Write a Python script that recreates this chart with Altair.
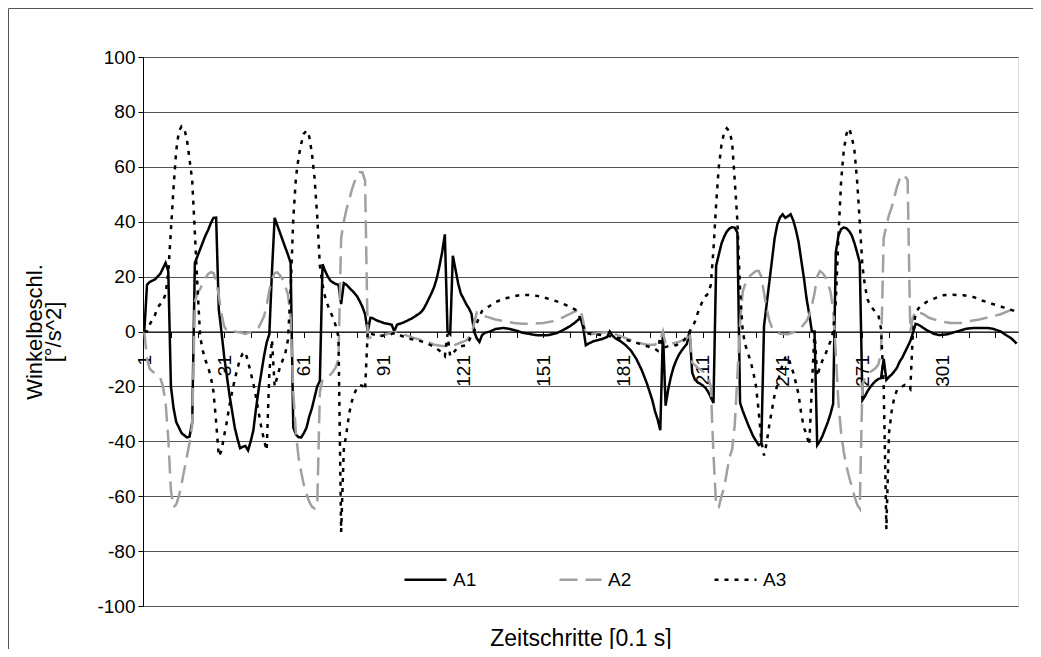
import altair as alt
import pandas as pd

SERIES = ["A1", "A2", "A3"]

A1 = [(1,0),(2,17),(3,18),(5,19),(7,21),(8,23),(9,25),(10,22),(11,-20),(12,-28),(13,-33),(15,-37),(17,-38.6),(18,-38.3),(19,-33),(20,25),(21,27.5),(22,30),(23,32.5),(24,35),(25,37),(26,39.5),(27,41.4),(28,41.5),(29,8),(30,0),(31,-9),(32,-16),(33,-23),(34,-29),(35,-35),(36,-39),(37,-42.5),(38,-42),(39,-41.7),(40,-43.3),(41,-40),(42,-36),(43,-28),(44,-21),(45,-15),(46,-9),(47,-4),(48,-1),(49,22),(50,41.4),(51,38.7),(52,36),(53,33.3),(54,30.6),(55,28),(56,25),(57,-35),(58,-37.5),(59,-38.5),(60,-38.6),(61,-37),(62,-35),(63,-31),(64,-28),(65,-24),(66,-20),(67,-18),(68,24.5),(69,22),(70,20),(71,18.5),(72,17.8),(73,17.3),(74,17),(75,10),(76,17.6),(77,17),(78,16),(79,15),(80,14),(81,12.8),(82,11),(83,9),(84,6.3),(85,0),(86,5),(87,4.8),(88,4.2),(89,3.8),(90,3.5),(91,3.1),(92,2.9),(93,2.7),(94,2.5),(95,0),(96,2.5),(97,2.8),(98,3.1),(100,4),(102,5),(104,6.3),(105,7),(106,8.2),(107,10),(108,12),(109,14),(110,16.3),(111,19.5),(112,24),(113,29),(114,35.4),(115,0),(116,-1),(117,27.6),(118,22.6),(119,17.5),(120,13.8),(121,12),(122,10),(123,8.5),(124,6.5),(125,0),(126,-2.5),(127,-3.8),(128,-1.3),(129,-0.5),(131,0),(133,0.9),(136,1.3),(138,1),(141,0.3),(143,-0.4),(146,-0.9),(148,-1.3),(151,-1.4),(153,-1.3),(156,-0.6),(158,0.3),(161,1.9),(163,3.3),(165,5),(166,1.5),(167,-5),(168,-4.4),(170,-3.5),(173,-2.8),(175,-2),(176,0),(177,-1.5),(178,-2.4),(180,-3.5),(182,-5),(184,-7),(186,-10),(188,-14),(190,-19),(192,-25),(193,-29),(194,-32),(195,-36),(196,0),(197,-27),(198,-21),(199,-16.5),(200,-13),(201,-10.5),(202,-8.5),(203,-7),(204,-5.7),(205,-4.5),(206,0),(207,-15),(208,-17.5),(209,-18.5),(210,-19),(211,-19.7),(212,-20.5),(213,-22),(214,-24),(215,-26),(216,24),(217,28),(218,32),(219,34.5),(220,36.4),(221,37.5),(222,38),(223,37.8),(224,36),(225,-26),(226,-28.9),(228,-33.9),(230,-38.3),(232,-41.4),(233,-40.8),(234,2),(235,10),(236,18),(237,26),(238,34),(239,39),(240,41.5),(241,42.7),(242,41.4),(243,42),(244,42.7),(245,40.5),(246,37),(247,32.6),(248,26),(249,19.5),(250,12),(251,6.3),(252,0),(253,0),(254,-41.4),(255,-40),(256,-38),(257,-35.5),(258,-33),(259,-30),(260,-26.3),(261,28.9),(262,35),(263,37.3),(264,37.9),(265,37.6),(266,36.6),(267,35),(268,32.2),(269,28.8),(270,25.1),(271,-25),(272,-23.5),(273,-21.6),(274,-20.2),(275,-19),(276,-18),(277,-17.3),(278,-17),(279,-10),(280,-17.6),(281,-16.5),(282,-15.7),(283,-14.5),(284,-13.2),(285,-11),(286,-9.5),(287,-7.5),(288,-5.5),(289,-3.5),(290,-0.5),(291,2.8),(292,2.5),(293,1.9),(295,0.6),(298,-0.9),(300,-1.3),(303,-1),(305,-0.4),(308,0.4),(310,1),(313,1.3),(318,1.3),(320,1),(323,0),(325,-1.3),(327,-2.5),(329,-4.4)]

A2 = [(1,0),(2,-10),(3,-13.5),(4,-14.5),(5,-15.3),(6,-16),(7,-17),(8,-20),(9,-26),(10,-38.9),(11,-58),(12,-64),(13,-63),(14,-60),(15,-55.5),(16,-50.5),(17,-45.5),(18,-40.5),(19,-34),(20,11),(21,14),(22,15.5),(23,17.8),(24,19.5),(25,21),(26,21.6),(27,21.3),(28,18.5),(29,13),(30,6.5),(31,2),(32,0.3),(33,0),(35,0),(37,-0.4),(39,-0.9),(40,-0.5),(42,0),(44,1.5),(45,3.5),(46,5.5),(47,9.5),(48,15),(49,19),(50,21.3),(51,21.5),(52,20.5),(53,19),(54,16.5),(55,13.5),(56,5),(57,-22),(58,-37),(59,-46),(60,-51.4),(61,-56),(62,-59.3),(63,-62),(64,-63.8),(65,-64.5),(66,-64),(67,-22),(68,-17.6),(69,-17),(70,-16.3),(71,-15.7),(72,-14.5),(73,-13),(74,-10),(75,34),(76,40),(77,44.5),(78,48),(79,51.5),(80,54.5),(81,56.6),(82,58),(83,58),(84,55),(85,-2.5),(86,-2.2),(87,-1.9),(89,-1.6),(91,-1.3),(94,-0.5),(96,0),(98,-0.9),(100,-1.6),(103,-2.5),(105,-3.1),(108,-4),(110,-4.8),(113,-5.3),(117,-5.2),(120,-4),(122,-3.3),(124,-1),(125,3),(126,6.9),(127,6.3),(129,5.6),(133,4.4),(136,3.8),(140,3.1),(143,2.8),(147,2.8),(151,3.1),(155,3.8),(158,5),(162,6.9),(165,8.2),(166,3.8),(167,-1.3),(170,-0.8),(173,-0.5),(176,0),(179,-1.3),(183,-2.8),(186,-4),(190,-4.8),(193,-4.8),(195,-3),(196,0),(197,-4.8),(199,-4.5),(202,-3.8),(205,-2.5),(206,0),(207,-11.3),(209,-13.2),(211,-14.5),(213,-16.8),(214,-20),(215,-45),(216,-63.5),(217,-64),(218,-60),(219,-57),(220,-51.4),(221,-46),(222,-43),(223,-34),(224,-16),(225,3),(226,14.5),(227,17.5),(228,19.5),(229,20.5),(230,21.3),(231,22),(232,22),(233,20),(234,14),(235,8.5),(236,4),(237,1.5),(238,0),(240,-0.8),(243,-1),(246,0),(248,1.5),(250,3.8),(251,6),(252,9.5),(253,14),(254,20),(255,22),(256,21.3),(257,20),(258,17.5),(259,14.5),(260,8),(261,-8),(262,-26.3),(263,-37),(264,-44),(265,-49),(266,-53),(267,-56.5),(268,-60),(269,-63),(270,-64.5),(271,-19),(272,-17),(273,-16),(274,-14.8),(275,-14),(276,-13.3),(277,-12),(278,-8),(279,34),(280,38.5),(281,42.5),(282,45.2),(283,49),(284,52.7),(285,55.5),(286,57.1),(287,56.5),(288,55.2),(289,0),(290,5),(291,7.5),(292,7),(294,6.3),(296,5),(300,3.8),(304,3.1),(308,3.1),(311,3.8),(315,4.4),(319,5.3),(323,6.3),(326,7.5),(329,8.8)]

A3 = [(1,0),(2,0),(3,2.5),(5,6),(6,8.8),(8,11),(9,13.8),(10,21.3),(11,37),(12,52.7),(13,66),(14,73),(15,74.7),(16,74),(17,70),(18,62.7),(19,55),(20,36),(21,16),(22,-2),(23,-7),(24,-10.5),(25,-13),(26,-16.5),(27,-22),(28,-33),(29,-45.5),(30,-43.5),(31,-38),(32,-33),(33,-27),(34,-22),(35,-17.5),(36,-13.5),(37,-10),(38,-8),(39,-7.5),(40,-11),(41,-15),(42,-19),(43,-24),(44,-29.5),(45,-35),(46,-39.5),(47,-43.3),(48,-15),(49,-3),(50,-20),(52,-13),(54,-8),(55,-3),(56,15),(57,41),(58,56),(59,63.5),(60,68.5),(61,72.1),(62,73.2),(63,71),(64,65),(65,56),(66,42),(67,24),(68,17),(69,12.5),(70,9.5),(71,7),(72,5),(73,2),(74,-2),(75,-73),(76,-43),(77,-37),(78,-30),(79,-25.5),(80,-22.5),(81,-20.5),(82,-19.5),(83,-19.8),(84,-21.3),(85,0),(86,-0.8),(88,-1.3),(90,-1.6),(93,-1.2),(95,-0.6),(97,-1.3),(100,-2.5),(103,-3.1),(106,-3.8),(110,-5.6),(112,-7),(113,-8),(114,-9),(115,-1),(116,-9),(117,-8),(119,-5.6),(122,-5),(123,-3.5),(124,-1.5),(125,0),(126,3),(127,5.5),(128,7.5),(131,9.4),(133,10.7),(136,11.9),(140,12.8),(143,13.4),(147,13.2),(150,12.8),(153,11.9),(157,10.7),(160,9.4),(163,8),(164,6.5),(165,4.5),(166,2),(167,-0.6),(170,-1),(175,-1.5),(180,-2.5),(184,-3.5),(189,-5),(193,-6.3),(194,-7),(195,-2),(196,-6),(199,-5),(201,-5),(204,-3.1),(206,0),(207,1.5),(208,3.5),(209,6.5),(210,9),(211,11.3),(212,12.8),(213,13.8),(214,17),(215,30),(216,46.4),(217,60),(218,68),(219,72.5),(220,74),(221,73),(222,69),(223,55),(224,40),(225,15),(226,0),(227,-5),(228,-8),(229,-11),(230,-15),(231,-20),(232,-29),(233,-40),(234,-45.2),(235,-40.5),(236,-34),(237,-28.5),(238,-23),(239,-19.5),(240,-15),(241,-12),(242,-9.5),(243,-9),(244,-12),(245,-15),(246,-18.8),(247,-23),(248,-30),(249,-35),(250,-37.6),(251,-41.4),(252,-20),(253,0),(254,-16.3),(255,-13),(256,-10.5),(257,-8.5),(258,-6),(259,-3.5),(260,0),(261,11),(262,35),(263,55),(264,66),(265,72),(266,74),(267,71),(268,66),(269,55),(270,40),(271,24),(272,16.3),(273,11.5),(274,9.5),(275,8.2),(276,7),(277,6),(278,1),(279,-20),(280,-72),(281,-37),(282,-29),(283,-24),(284,-21.3),(285,-20.3),(286,-20),(287,-19.5),(288,-20),(289,-21),(290,0),(291,6.5),(292,8.3),(293,9.3),(295,10.7),(298,12),(301,13.2),(305,13.4),(309,13.2),(313,12.5),(316,11.3),(320,10),(324,8.8),(328,7.5),(329,6.8)]

Y_TICKS = list(range(-100, 101, 20))
X_TICKS = list(range(1, 330, 10))
N_CATS = 329

rows = []
for name, pts in zip(SERIES, [A1, A2, A3]):
    for t, v in pts:
        rows.append({"t": t, "v": v, "s": name})
df = pd.DataFrame(rows)

FONT = "Liberation Sans"
W, H = 875, 549
PAD_L, PAD_T, PAD_R, PAD_B = 135, 49, 15, 43

legend = alt.Legend(
    title=None, orient="none", legendX=260, legendY=500, direction="horizontal",
    symbolType="stroke", symbolSize=1764, symbolStrokeWidth=2.5,
    labelFont=FONT, labelFontSize=19, labelColor="#000", labelOffset=5,
    columnPadding=77, padding=0,
)

color = alt.Color("s:N", scale=alt.Scale(domain=SERIES, range=["#000000", "#a0a0a0", "#000000"]), legend=legend)
dash = alt.StrokeDash("s:N", scale=alt.Scale(domain=SERIES, range=[[1, 0], [18, 8], [4, 6]]), legend=legend)

lines = alt.Chart(df).mark_line(strokeWidth=2.5).encode(
    x=alt.X("t:Q", scale=alt.Scale(domain=[0.5, N_CATS + 0.5], nice=False, zero=False),
            axis=alt.Axis(values=X_TICKS, format="d",
                          labelExpr="(datum.value - 1) % 30 == 0 ? datum.label : ''",
                          labelAngle=270, labelAlign="right", labelBaseline="middle",
                          labelPadding=17, tickSize=6, tickColor="#000", domainColor="#000",
                          labelFont=FONT, labelFontSize=19, labelColor="#000",
                          grid=False, offset=-H / 2, labelOverlap=False, labelFlush=False,
                          title="Zeitschritte [0.1 s]", titleX=W / 2, titleY=313.5,
                          titleFont=FONT, titleFontSize=23, titleFontWeight="normal",
                          titleColor="#000", titleBaseline="alphabetic", titleAlign="center")),
    y=alt.Y("v:Q", scale=alt.Scale(domain=[-100, 100], nice=False),
            axis=alt.Axis(values=Y_TICKS, labelExpr="datum.value + ''", tickSize=5, tickColor="#000",
                          domainColor="#000", labelFont=FONT, labelFontSize=19,
                          labelColor="#000", labelPadding=3, gridColor="#555555",
                          title=["Winkelbeschl.", "[°/s^2]"], titleX=-97, titleY=H / 2,
                          titleFont=FONT, titleFontSize=22, titleFontWeight="normal",
                          titleColor="#000", titleLineHeight=19, titleAngle=270,
                          titleAlign="center", titleBaseline="bottom")),
    color=color,
    strokeDash=dash,
)

frame_src = pd.DataFrame({"k": [0]})
frame_left = alt.Chart(frame_src).mark_rule(color="#555555", strokeWidth=1).encode(
    x=alt.value(-PAD_L + 0.5), y=alt.value(-PAD_T + 0.5), y2=alt.value(H + PAD_B))
frame_top = alt.Chart(frame_src).mark_rule(color="#555555", strokeWidth=1).encode(
    x=alt.value(-PAD_L + 0.5), x2=alt.value(W + PAD_R), y=alt.value(-PAD_T + 0.5))

chart = alt.layer(lines, frame_left, frame_top).properties(
    width=W, height=H,
    autosize=alt.AutoSizeParams(type="none"),
    padding={"left": PAD_L, "top": PAD_T, "right": PAD_R, "bottom": PAD_B},
).configure_view(stroke="#555555", strokeWidth=1).configure(background="white")

chart.save("out.html", embed_options={"renderer": "svg", "actions": False})
